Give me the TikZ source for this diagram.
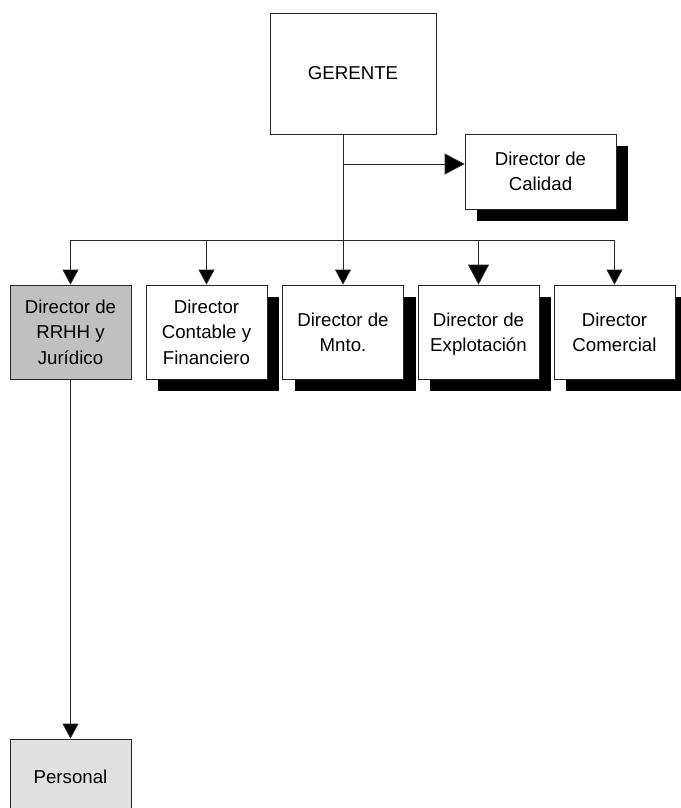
\documentclass[tikz,border=0pt]{standalone}
\usepackage{fontspec}
\setmainfont{Liberation Sans}
\usetikzlibrary{arrows.meta,shadows}

\definecolor{grisrrhh}{HTML}{C0C0C0}
\definecolor{grispersonal}{HTML}{E0E0E0}

\tikzset{
  cargo/.style={draw=black!85, line width=0.6pt, fill=white, inner sep=0pt,
    minimum width=90.75pt, minimum height=70.5pt, align=center},
  sombra/.style={drop shadow={shadow xshift=9pt, shadow yshift=-9pt, fill=black, opacity=1}},
  enlace/.style={draw=black!85, line width=0.6pt},
  flecha/.style={enlace, -{Triangle[length=11.25pt,width=12pt,fill=black]}},
  flechagrande/.style={enlace, -{Triangle[length=15pt,width=15.75pt,fill=black]}}
}

\begin{document}
\begin{tikzpicture}[x=0.75pt,y=-0.75pt,every node/.style={font=\fontsize{14}{19}\selectfont}]
  \useasboundingbox (0,0) rectangle (681,808);

  % Gerencia
  \node[cargo, minimum width=124.5pt, minimum height=90.75pt] (gerente) at (353,73.5) {GERENTE};
  \node[cargo, sombra, minimum width=113.25pt, minimum height=56.25pt] (calidad) at (540.5,171.5) {Director de\\Calidad};

  % Directores
  \node[cargo, fill=grisrrhh] (rrhh) at (70.5,332) {Director de\\RRHH y\\Jurídico};
  \node[cargo, sombra] (contable) at (206.5,332) {Director\\Contable y\\Financiero};
  \node[cargo, sombra] (mnto) at (343,332) {Director de\\Mnto.};
  \node[cargo, sombra] (explotacion) at (478.5,332) {Director de\\\smash{Explotación}};
  \node[cargo, sombra] (comercial) at (614.5,332) {Director\\Comercial};

  % Personal
  \node[cargo, fill=grispersonal, minimum height=57pt] (personal) at (70.5,777) {Personal};

  % Conexiones
  \coordinate (rama) at (343,164);
  \coordinate (bus) at (343,240);
  \draw[flecha] (mnto.north |- gerente.south) -- (mnto.north);
  \draw[flechagrande] (rama) -- (rama -| calidad.west);
  \draw[enlace] (rrhh.north |- bus) -- (comercial.north |- bus);
  \foreach \d in {rrhh,contable,comercial} {
    \draw[flecha] (\d.north |- bus) -- (\d.north);
  }
  \draw[flechagrande] (explotacion.north |- bus) -- (explotacion.north);
  \draw[flecha] (rrhh.south) -- (personal.north);
\end{tikzpicture}
\end{document}
